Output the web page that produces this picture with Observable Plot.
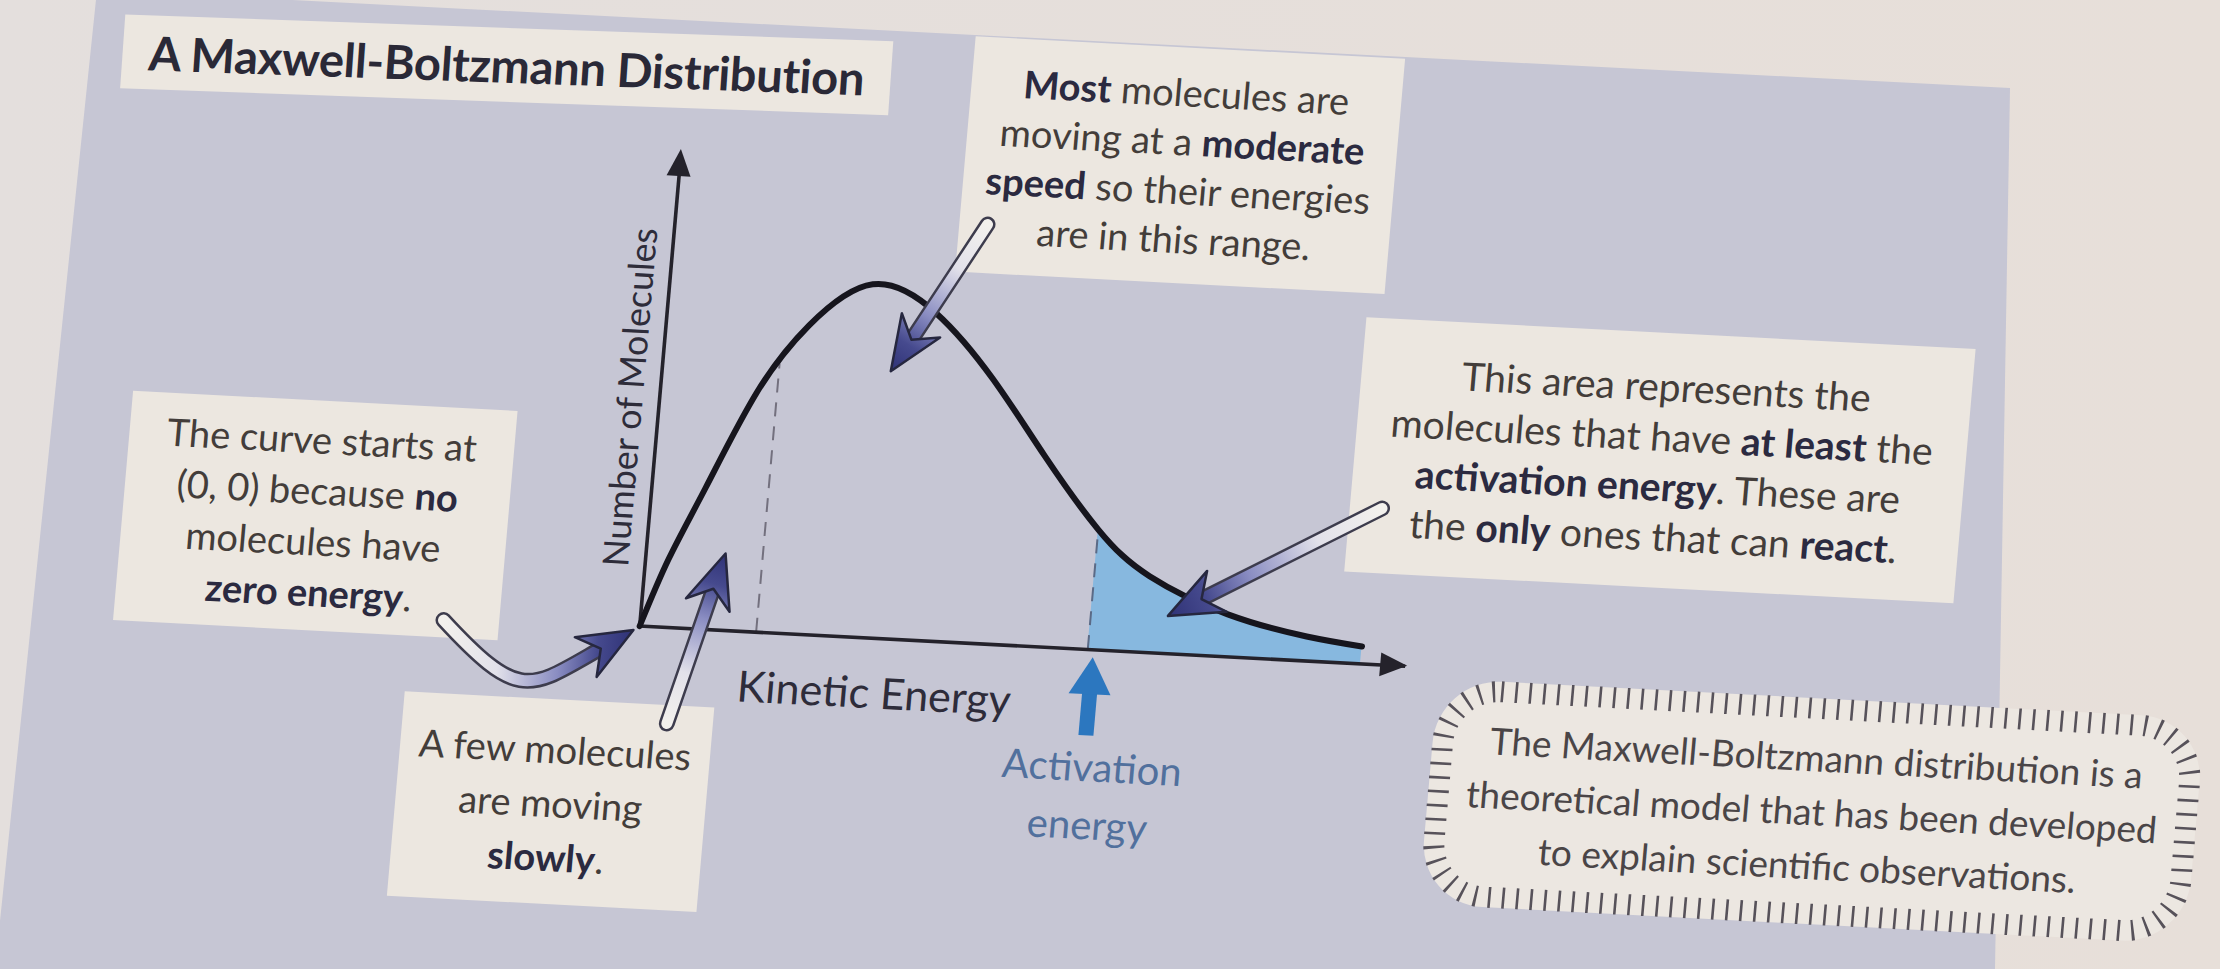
<!DOCTYPE html>
<html>
<head>
<meta charset="utf-8">
<script src="https://cdn.jsdelivr.net/npm/d3@7"></script>
<script src="https://cdn.jsdelivr.net/npm/@observablehq/plot@0.6"></script>
<style>
  html, body { margin: 0; padding: 0; width: 2220px; height: 969px; overflow: hidden; background: #e6dfda; }
  #page { position: relative; width: 2220px; height: 969px; overflow: hidden; background: linear-gradient(90deg, #e4dfdd 0%, #e7dfd9 100%); }
  #panel { position: absolute; left: 0; top: 0; width: 2220px; height: 969px; background: #c6c6d4;
           clip-path: polygon(97px -10px, 2010px 88px, 1995px 969px, -5px 969px); }
  #scene { position: absolute; left: 0; top: 0; width: 2220px; height: 969px;
           transform-origin: 1110px 485px; transform: rotate(3deg) skewX(-2deg); }
  .box { position: absolute; background: #ece7e0; display: flex; flex-direction: column; justify-content: center;
         align-items: center; text-align: center; font-family: Lato, "Open Sans", sans-serif; color: #433d3a;
         font-size: 38px; line-height: 50px; box-sizing: border-box; }
  .box b { font-weight: 700; color: #2b2a40; }
  #title { font-weight: 700; font-size: 47px; color: #2a2937; letter-spacing: -0.3px; transform: rotate(-1deg); }
  #note { position: absolute; }
  #note svg { position: absolute; left: 0; top: 0; }
  #note .txt { position: absolute; left: 0; top: 0; width: 100%; height: 100%; display: flex; flex-direction: column;
               justify-content: center; align-items: center; text-align: center; font-family: Lato, sans-serif;
               font-size: 37px; line-height: 54px; color: #4a4547; }
  #chart { position: absolute; left: 0; top: 0; }
</style>
</head>
<body>
<div id="page">
  <div id="panel"></div>
  <div id="scene">
    <div class="box" id="title" style="left:88px; top:60px; width:768px; height:74px;">A Maxwell-Boltzmann Distribution</div>
    <div class="box" style="left:937px; top:44px; width:430px; height:236px; line-height:49px;">
      <div><b>Most</b> molecules are</div>
      <div>moving at a <b>moderate</b></div>
      <div><b>speed</b> so their energies</div>
      <div>are in this range.</div>
    </div>
    <div class="box" style="left:128px; top:442px; width:385px; height:230px; line-height:51px;">
      <div>The curve starts at</div>
      <div>(0, 0) because <b>no</b></div>
      <div>molecules have</div>
      <div><b>zero energy</b>.</div>
    </div>
    <div class="box" style="left:425px; top:728px; width:310px; height:205px; line-height:54px;">
      <div>A few molecules</div>
      <div>are moving</div>
      <div><b>slowly</b>.</div>
    </div>
    <div class="box" style="left:1351px; top:304px; width:610px; height:255px; font-size:39px;">
      <div>This area represents the</div>
      <div>molecules that have <b>at least</b> the</div>
      <div><b>activation energy</b>. These are</div>
      <div>the <b>only</b> ones that can <b>react</b>.</div>
    </div>
    <div id="note" style="left:1453px; top:660px; width:770px; height:228px;">
      <svg width="770" height="228">
        <rect x="1" y="1" width="768" height="226" rx="64" fill="#ece7e1"></rect>
        <rect x="11" y="11" width="748" height="206" rx="54" fill="none" stroke="#57525a" stroke-width="21" stroke-dasharray="2.6 11.4"></rect>
      </svg>
      <div class="txt">
        <div>The Maxwell-Boltzmann distribution is a</div>
        <div>theoretical model that has been developed</div>
        <div>to explain scientific observations.</div>
      </div>
    </div>
    <div id="chart"></div>
  </div>
</div>
<script>
// ---- data (energy and number of molecules, arbitrary units 0..10) ----
const energy    = [0, 0.30, 0.70, 1.25, 1.86, 2.64, 3.49, 4.31, 5.07, 5.85, 6.57, 7.63, 8.68, 9.41];
const molecules = [0, 1.45, 3.00, 5.05, 6.55, 7.49, 6.96, 5.62, 4.05, 2.55, 1.62, 0.90, 0.52, 0.37];
const activationEnergy = 5.85;
const slowEnergy = [1.52];
const slowHeight = [5.70];
const axisDomain = [0, 10];

// axis labels
const axisLabelText = ["Number of Molecules", "Kinetic Energy"];
const axisLabelX = [-0.37, 3.12];
const axisLabelY = [4.83, -1.19];
const axisLabelRotate = [-90, 0];
const axisLabelSize = [36, 43];

// activation energy marker (blue arrow under the axis, and its label)
const activationArrow = [{x: 5.93, y1: -1.83, y2: -0.17}];
const activationLabel = [{text: "Activation\nenergy", x: 6.04, y: -3.01}];

// pointer arrows from the annotation boxes (tail -> tip, optional cubic control points)
const pointerTailX = [4.07, 9.52, -2.55, 0.47];
const pointerTailY = [8.87, 3.30, -0.10, -2.04];
const pointerTipX  = [2.98, 6.86, -0.07, 1.04];
const pointerTipY  = [5.66, 0.79, -0.10, 1.62];
const pointerCtrl  = [null, null, [-1.44, -1.80, -1.35, -1.46], null];

// ---- tables built from the arrays ----
const curve = energy.map((e, i) => ({energy: e, molecules: molecules[i]}));
const tail = curve.filter(d => d.energy >= activationEnergy);
const actTop = curve.find(d => d.energy === activationEnergy).molecules;
const slow = slowEnergy.map((e, i) => ({energy: e, top: slowHeight[i]}));
const labels = axisLabelText.map((t, i) => ({text: t, x: axisLabelX[i], y: axisLabelY[i], rotate: axisLabelRotate[i], size: axisLabelSize[i]}));
const pointers = pointerTailX.map((x, i) => ({x1: x, y1: pointerTailY[i], x2: pointerTipX[i], y2: pointerTipY[i], c: pointerCtrl[i]}));

const NS = "http://www.w3.org/2000/svg";
function el(tag, attrs) {
  const e = document.createElementNS(NS, tag);
  for (const k in attrs) e.setAttribute(k, attrs[k]);
  return e;
}
function headPoints(tip, ang, L, W, notch) {
  const pts = notch == null ? [[0, 0], [-L, -W], [-L, W]] : [[0, 0], [-L, -W], [-notch, 0], [-L, W]];
  return pts.map(([u, v]) => [tip[0] + u * Math.cos(ang) - v * Math.sin(ang), tip[1] + u * Math.sin(ang) + v * Math.cos(ang)])
            .map(p => p.join(",")).join(" ");
}

// axis arrowheads (drawn with the plot's scales)
const axisHeads = (index, scales) => {
  const g = el("g", {fill: "#24222b"});
  const xEnd = [scales.x(axisDomain[1]) + 2, scales.y(0)];
  const yEnd = [scales.x(0), scales.y(axisDomain[1]) - 6];
  g.appendChild(el("polygon", {points: headPoints(xEnd, 0, 27, 12)}));
  g.appendChild(el("polygon", {points: headPoints(yEnd, -Math.PI / 2, 27, 12)}));
  return g;
};

// big shaded pointer arrows
const pointerMark = (index, scales) => {
  const g = el("g", {});
  const defs = el("defs", {});
  g.appendChild(defs);
  const L = 54, W = 23, N = 37;
  pointers.forEach((a, i) => {
    const p0 = [scales.x(a.x1), scales.y(a.y1)];
    const tip = [scales.x(a.x2), scales.y(a.y2)];
    let from, p1, p2;
    if (a.c) { p1 = [scales.x(a.c[0]), scales.y(a.c[1])]; p2 = [scales.x(a.c[2]), scales.y(a.c[3])]; from = p2; }
    else from = p0;
    const ang = Math.atan2(tip[1] - from[1], tip[0] - from[0]);
    const end = [tip[0] - 0.6 * L * Math.cos(ang), tip[1] - 0.6 * L * Math.sin(ang)];
    const d = a.c ? `M${p0}C${p1} ${p2} ${end}` : `M${p0}L${end}`;
    const id = "ptr-grad-" + i;
    const grad = el("linearGradient", {id, gradientUnits: "userSpaceOnUse", x1: p0[0], y1: p0[1], x2: tip[0], y2: tip[1]});
    [[0, "#f3f1ed"], [0.3, "#e2e1ea"], [0.62, "#8a8dc2"], [0.82, "#464a8e"], [1, "#2f3276"]]
      .forEach(([o, c]) => grad.appendChild(el("stop", {offset: o, "stop-color": c})));
    defs.appendChild(grad);
    g.appendChild(el("path", {d, fill: "none", stroke: "#3d3c4d", "stroke-width": 16, "stroke-linecap": "round"}));
    g.appendChild(el("path", {d, fill: "none", stroke: `url(#${id})`, "stroke-width": 11, "stroke-linecap": "round"}));
    g.appendChild(el("polygon", {points: headPoints(tip, ang, L, W, N), fill: `url(#${id})`, stroke: "#26273f",
                                 "stroke-width": 2.5, "stroke-linejoin": "round"}));
  });
  return g;
};

// blue activation-energy arrow
const activationMark = (index, scales) => {
  const g = el("g", {fill: "#2c77bf", stroke: "none"});
  activationArrow.forEach(a => {
    const x = scales.x(a.x), yTail = scales.y(a.y1), yTip = scales.y(a.y2);
    const L = 37, W = 21;
    g.appendChild(el("rect", {x: x - 7.5, y: yTip + L - 2, width: 15, height: yTail - yTip - L + 2}));
    g.appendChild(el("polygon", {points: headPoints([x, yTip], -Math.PI / 2, L, W)}));
  });
  return g;
};

const chart = Plot.plot({
  width: 2220,
  height: 969,
  marginLeft: 653,
  marginRight: 800,
  marginTop: 178,
  marginBottom: 319,
  x: {domain: axisDomain, axis: null},
  y: {domain: axisDomain, axis: null},
  style: {background: "transparent", overflow: "visible", fontFamily: "Lato, sans-serif"},
  marks: [
    Plot.areaY(tail, {x: "energy", y: "molecules", curve: "natural", fill: "#87b8df"}),
    Plot.ruleX(slow, {x: "energy", y1: 0, y2: "top", stroke: "#73707e", strokeWidth: 2, strokeDasharray: "14,10"}),
    Plot.ruleX([activationEnergy], {y1: 0, y2: actTop, stroke: "#5b6a86", strokeWidth: 2, strokeDasharray: "14,10"}),
    Plot.ruleY([0], {stroke: "#24222b", strokeWidth: 3.6}),
    Plot.ruleX([0], {stroke: "#24222b", strokeWidth: 3.6}),
    Plot.line(curve, {x: "energy", y: "molecules", curve: "natural", stroke: "#16151d", strokeWidth: 6}),
    axisHeads,
    activationMark,
    Plot.text(labels, {x: "x", y: "y", text: "text", rotate: "rotate", fontSize: d => d.size, fill: "#2e2c3a",
                       textAnchor: "middle", lineAnchor: "middle"}),
    Plot.text(activationLabel, {x: "x", y: "y", text: "text", fontSize: 40, lineHeight: 1.45, fill: "#51709d",
                                textAnchor: "middle", lineAnchor: "middle"}),
    pointerMark
  ]
});
document.getElementById("chart").appendChild(chart);
</script>
</body>
</html>
